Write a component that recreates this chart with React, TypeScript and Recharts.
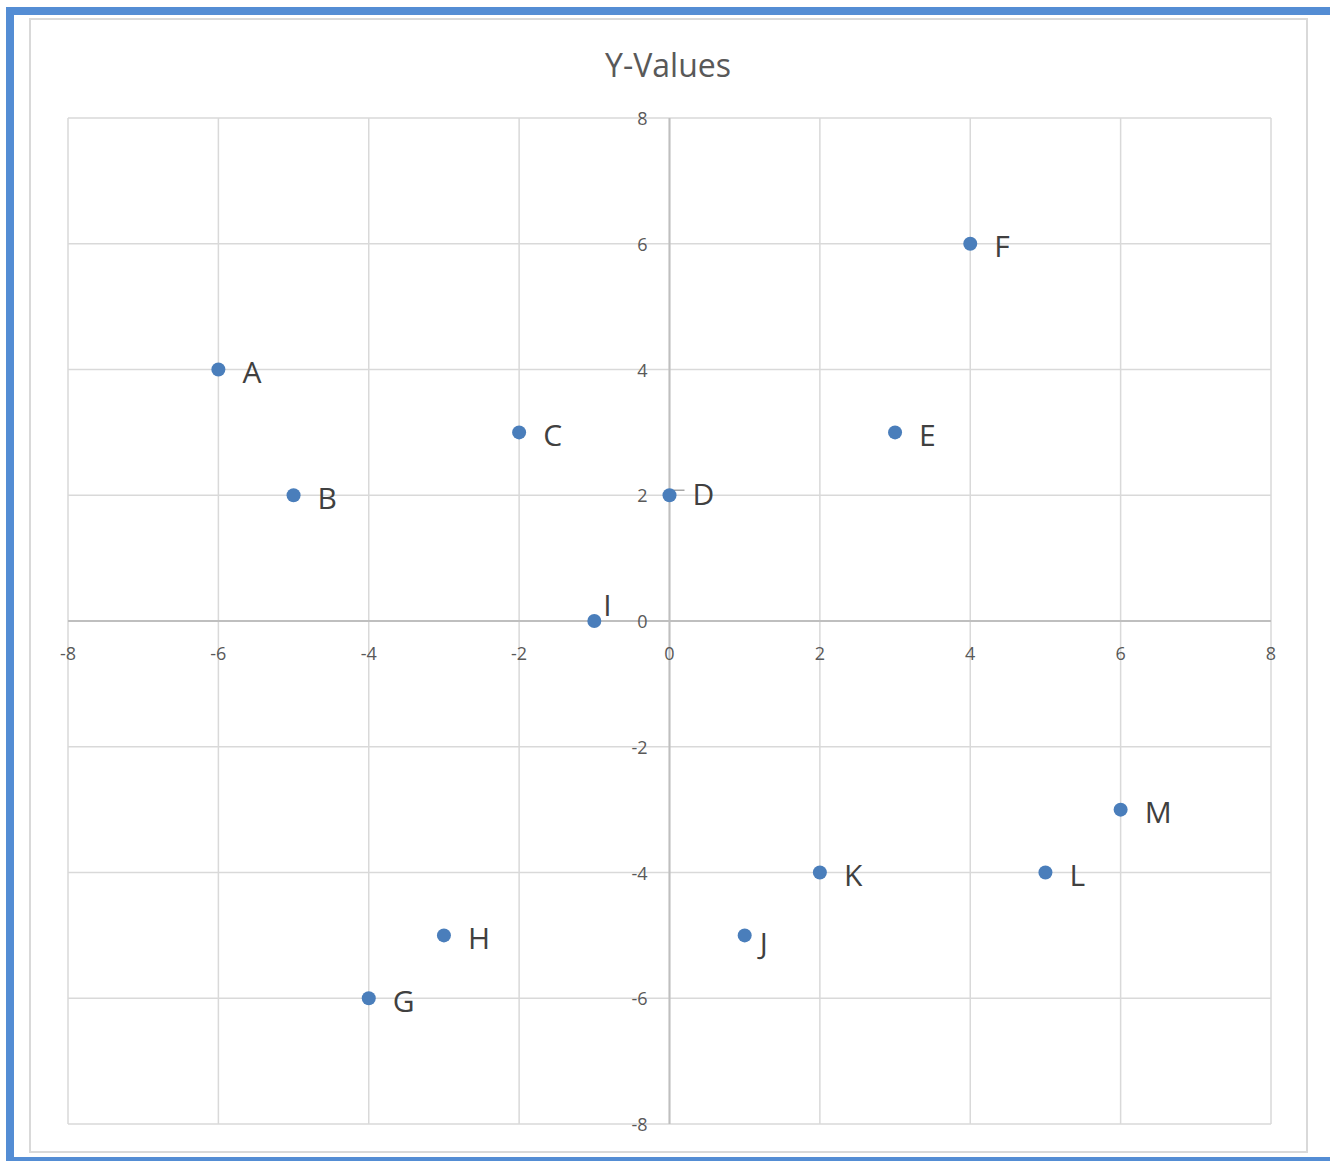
import {
  CartesianGrid,
  ReferenceLine,
  Scatter,
  ScatterChart,
  XAxis,
  YAxis,
} from 'recharts'

const labels = ['A', 'B', 'C', 'D', 'E', 'F', 'G', 'H', 'I', 'J', 'K', 'L', 'M']
const xValues = [-6, -5, -2, 0, 3, 4, -4, -3, -1, 1, 2, 5, 6]
const yValues = [4, 2, 3, 2, 3, 6, -6, -5, 0, -5, -4, -4, -3]
const axisTicks = [-8, -6, -4, -2, 0, 2, 4, 6, 8]

const data = labels.map((name, i) => ({ name, x: xValues[i], y: yValues[i] }))

const W = 1330
const H = 1161
const PLOT_LEFT = 68
const PLOT_TOP = 118
const PLOT_W = 1203
const PLOT_H = 1006

const FONT = '"Open Sans", sans-serif'
const GRID = '#d9d9d9'
const DOT = '#4a7ebb'

// label nudges for the few points Excel placed differently
const labelNudge: Record<string, { dx: number; dy: number }> = {
  I: { dx: 9, dy: -17 },
  J: { dx: 15, dy: 7 },
  D: { dx: 23, dy: -2 },
}

const renderXTick = (props: any) => (
  <text
    key={`x-${props.payload.value}`}
    x={props.x}
    y={PLOT_TOP + PLOT_H / 2 + 32}
    textAnchor="middle"
    dominantBaseline="central"
    fontSize={18}
    fontFamily={FONT}
    fill="#595959"
  >
    {props.payload.value}
  </text>
)

const renderYTick = (props: any) => (
  <text
    key={`y-${props.payload.value}`}
    x={PLOT_LEFT + PLOT_W / 2 - 22}
    y={props.y}
    textAnchor="end"
    dominantBaseline="central"
    fontSize={18}
    fontFamily={FONT}
    fill="#595959"
  >
    {props.payload.value}
  </text>
)

function Point({ cx, cy, payload }: any) {
  const nudge = labelNudge[payload.name] ?? { dx: 24, dy: 2 }
  return (
    <g>
      {payload.name === 'D' && (
        <path
          d={`M${cx + 1} ${cy - 1} L${cx + 4} ${cy - 5} L${cx + 15} ${cy - 5}`}
          stroke="#a6a6a6"
          strokeWidth={1.5}
          fill="none"
        />
      )}
      <circle cx={cx} cy={cy} r={7} fill={DOT} />
      <text
        x={cx + nudge.dx}
        y={cy + nudge.dy}
        dominantBaseline="central"
        fontSize={30}
        fontFamily={FONT}
        fill="#404040"
      >
        {payload.name}
      </text>
    </g>
  )
}

export default function App() {
  return (
    <div style={{ position: 'absolute', left: 0, top: 0, width: W, height: H, background: '#fff' }}>
      <div
        style={{
          position: 'absolute',
          left: 6,
          top: 7,
          width: W - 6,
          height: H - 7,
          boxSizing: 'border-box',
          borderLeft: '8px solid #548dd4',
          borderTop: '8px solid #548dd4',
          borderBottom: '4px solid #548dd4',
        }}
      />
      <div
        style={{
          position: 'absolute',
          left: 29,
          top: 18,
          width: 1279,
          height: 1135,
          boxSizing: 'border-box',
          border: `2px solid ${GRID}`,
        }}
      />
      <div
        style={{
          position: 'absolute',
          left: 0,
          top: 45,
          width: 1336,
          textAlign: 'center',
          fontFamily: FONT,
          fontSize: 32,
          color: '#595959',
          lineHeight: '40px',
        }}
      >
        Y-Values
      </div>
      <div style={{ position: 'absolute', left: 0, top: 0 }}>
        <ScatterChart
          width={W}
          height={H}
          margin={{ top: PLOT_TOP, right: W - PLOT_LEFT - PLOT_W, bottom: H - PLOT_TOP - PLOT_H - 10, left: PLOT_LEFT - 10 }}
        >
          <CartesianGrid stroke={GRID} strokeWidth={1.5} />
          <XAxis
            type="number"
            dataKey="x"
            domain={[-8, 8]}
            ticks={axisTicks}
            height={10}
            axisLine={false}
            tickLine={false}
            tick={renderXTick}
            interval={0}
          />
          <YAxis
            type="number"
            dataKey="y"
            domain={[-8, 8]}
            ticks={axisTicks}
            width={10}
            axisLine={false}
            tickLine={false}
            tick={renderYTick}
            interval={0}
          />
          <ReferenceLine x={0} stroke="#bfbfbf" strokeWidth={2} />
          <ReferenceLine y={0} stroke="#bfbfbf" strokeWidth={2} />
          <Scatter data={data} shape={<Point />} isAnimationActive={false} />
        </ScatterChart>
      </div>
    </div>
  )
}
